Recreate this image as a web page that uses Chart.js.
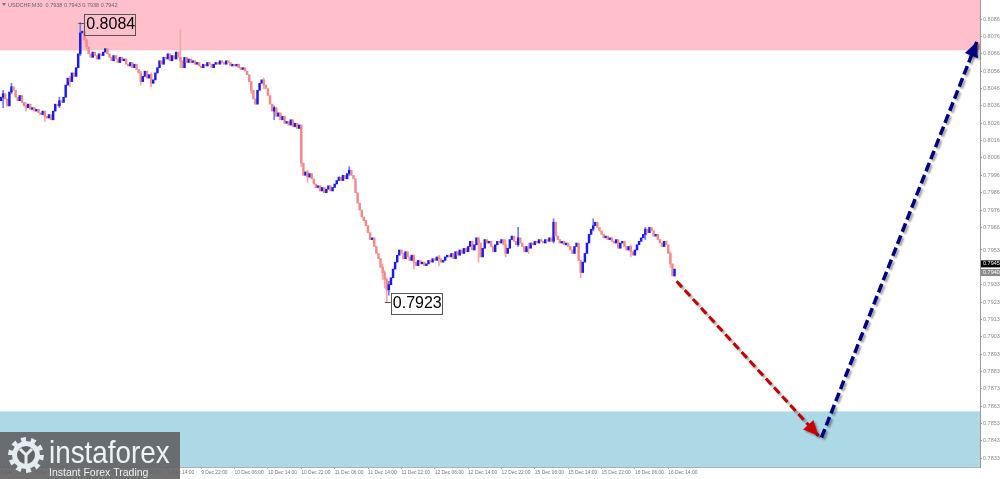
<!DOCTYPE html>
<html>
<head>
<meta charset="utf-8">
<script src="https://cdn.jsdelivr.net/npm/chart.js@4.4.1/dist/chart.umd.min.js"></script>
<style>
  html, body { margin: 0; padding: 0; background: #fff; overflow: hidden; }
  canvas { display: block; }
</style>
</head>
<body>
<canvas id="usdchfChart" width="1000" height="479" style="width:1000px;height:479px"></canvas>
<script>
// USDCHF M30 closes, one per bar (5 Dec 22:00 .. 16 Dec 15:30)
const firstOpen = 0.8039;
const closes = [
  0.8041, 0.8043, 0.8040, 0.8036, 0.8044, 0.8047, 0.8045, 0.8041,
  0.8039, 0.8042, 0.8038, 0.8036, 0.8035, 0.8037, 0.8034, 0.8035, 0.8033,
  0.8034, 0.8032, 0.8031, 0.8033, 0.8030, 0.8029, 0.8031, 0.8028,
  0.8033, 0.8037, 0.8036, 0.8039, 0.8038, 0.8041,
  0.8048, 0.8052, 0.8050, 0.8055, 0.8053, 0.8058,
  0.8066, 0.8078, 0.8079, 0.8074,
  0.8070, 0.8066, 0.8064, 0.8067, 0.8065, 0.8063, 0.8066,
  0.8065, 0.8067, 0.8069, 0.8066,
  0.8064, 0.8062, 0.8065, 0.8063, 0.8061, 0.8064, 0.8062, 0.8063,
  0.8060, 0.8059, 0.8061, 0.8058, 0.8060, 0.8057,
  0.8055, 0.8050, 0.8053, 0.8056, 0.8052, 0.8054, 0.8049, 0.8051,
  0.8055, 0.8058, 0.8062, 0.8060, 0.8064, 0.8063,
  0.8066, 0.8062, 0.8065, 0.8063, 0.8067, 0.8064,
  0.8062, 0.8058, 0.8064, 0.8061,
  0.8063, 0.8061, 0.8062, 0.8060, 0.8061, 0.8059,
  0.8058, 0.8060, 0.8059, 0.8061, 0.8060, 0.8058, 0.8060,
  0.8061, 0.8060, 0.8062, 0.8061, 0.8060, 0.8062, 0.8061, 0.8059, 0.8060,
  0.8059, 0.8060, 0.8058, 0.8057, 0.8058, 0.8056, 0.8054,
  0.8050, 0.8045, 0.8040, 0.8037,
  0.8045, 0.8049, 0.8051, 0.8048, 0.8046,
  0.8042, 0.8037, 0.8033, 0.8035, 0.8030,
  0.8032, 0.8028, 0.8030, 0.8026, 0.8027, 0.8025, 0.8028, 0.8024, 0.8026, 0.8023, 0.8025,
  0.8003, 0.7996, 0.7998, 0.7995, 0.7997, 0.7994,
  0.7991, 0.7989, 0.7990, 0.7987, 0.7989, 0.7986, 0.7988, 0.7990, 0.7987, 0.7989,
  0.7991, 0.7993, 0.7995, 0.7993, 0.7996, 0.7994, 0.7997, 0.7999, 0.7996, 0.7994,
  0.7986, 0.7980, 0.7976, 0.7972, 0.7970, 0.7967,
  0.7963, 0.7959, 0.7960, 0.7955, 0.7951, 0.7948,
  0.7943, 0.7940, 0.7936, 0.7930, 0.7933,
  0.7937, 0.7942, 0.7946, 0.7950,
  0.7953, 0.7951, 0.7948, 0.7952, 0.7949, 0.7947, 0.7950, 0.7946, 0.7944, 0.7947,
  0.7945, 0.7946, 0.7944, 0.7945, 0.7947, 0.7946, 0.7948, 0.7947, 0.7949, 0.7948, 0.7946, 0.7947, 0.7949,
  0.7950, 0.7949, 0.7951, 0.7948, 0.7952, 0.7950, 0.7953, 0.7951, 0.7954, 0.7952,
  0.7955, 0.7958, 0.7953, 0.7956, 0.7960, 0.7957, 0.7949, 0.7954, 0.7959, 0.7957,
  0.7958, 0.7955, 0.7952, 0.7956, 0.7958, 0.7957, 0.7959, 0.7956, 0.7951, 0.7954, 0.7959, 0.7961, 0.7958, 0.7956,
  0.7960,
  0.7957, 0.7955, 0.7952, 0.7955, 0.7954, 0.7957, 0.7956, 0.7958, 0.7957, 0.7959, 0.7958, 0.7957, 0.7959, 0.7958, 0.7960, 0.7958,
  0.7969,
  0.7961, 0.7959, 0.7957, 0.7958, 0.7956, 0.7957, 0.7955, 0.7953, 0.7951, 0.7955, 0.7957,
  0.7947, 0.7940, 0.7946,
  0.7951, 0.7957, 0.7962, 0.7965, 0.7967, 0.7969,
  0.7966, 0.7964, 0.7962, 0.7960, 0.7961, 0.7959, 0.7960, 0.7958,
  0.7957, 0.7959, 0.7954, 0.7957, 0.7958, 0.7955, 0.7953, 0.7955, 0.7952, 0.7950,
  0.7953, 0.7956, 0.7958, 0.7960, 0.7962, 0.7965, 0.7963, 0.7966,
  0.7964, 0.7961, 0.7962, 0.7959, 0.7957, 0.7955, 0.7958, 0.7956,
  0.7951, 0.7945, 0.7938, 0.7942
];
// bars whose wicks stick out of the body
const wickBars  = [1, 5, 12, 21, 28, 33, 38, 41, 67, 72, 86, 120, 126, 131, 144, 147, 167, 183, 184, 185, 186, 198, 210, 229, 242, 248, 253, 265, 278, 284, 302, 309, 321];
const wickHighs = [0.8045, 0.8049, 0.8038, 0.8033, 0.8041, 0.8053, 0.8084, 0.8075, 0.8056, 0.8055, 0.8080, 0.8050, 0.8052, 0.8036, 0.8025, 0.7999, 0.8001, 0.7945, 0.7941, 0.7937, 0.7935, 0.7950, 0.7950, 0.7960, 0.7959, 0.7966, 0.7957, 0.7971, 0.7947, 0.7971, 0.7956, 0.7966, 0.7952];
const wickLows  = [0.8035, 0.8043, 0.8033, 0.8027, 0.8035, 0.8047, 0.8065, 0.8068, 0.8048, 0.8047, 0.8058, 0.8043, 0.8046, 0.8028, 0.8001, 0.7992, 0.7996, 0.7936, 0.7931, 0.7923, 0.7927, 0.7942, 0.7944, 0.7946, 0.7949, 0.7955, 0.7951, 0.7957, 0.7937, 0.7964, 0.7949, 0.7959, 0.7943];

// x tick labels, one every 16 bars
const timeLabels = ['5 Dec 22:00', '8 Dec 06:00', '8 Dec 14:00', '8 Dec 22:00', '9 Dec 06:00', '9 Dec 14:00', '9 Dec 22:00',
  '10 Dec 06:00', '10 Dec 14:00', '10 Dec 22:00', '11 Dec 06:00', '11 Dec 14:00', '11 Dec 22:00', '12 Dec 06:00',
  '12 Dec 14:00', '12 Dec 22:00', '15 Dec 06:00', '15 Dec 14:00', '15 Dec 22:00', '16 Dec 06:00', '16 Dec 14:00'];
const barsPerLabel = 16;
const priceTicks = [0.8086, 0.8076, 0.8066, 0.8056, 0.8046, 0.8036, 0.8026, 0.8016, 0.8006, 0.7996, 0.7986, 0.7976, 0.7966,
  0.7953, 0.7933, 0.7923, 0.7913, 0.7903, 0.7893, 0.7883, 0.7873, 0.7863, 0.7853, 0.7843, 0.7833];

// zones and forecast waves
const resistanceZone = [0.8068, 0.8097];
const supportZone = [0.7828, 0.7860];
const downWaveX = [324, 392];
const downWaveY = [0.7935, 0.7846];
const upWaveX = [393.5, 468];
const upWaveY = [0.7845, 0.8073];
const markBars = [38, 185];
const markValues = [0.8084, 0.7923];
const bidLabel = 0.7945;
const askLabel = 0.7940;
const headerText = 'USDCHF,M30  0.7938 0.7943 0.7938 0.7942';

const opens = closes.map((c, i) => i === 0 ? firstOpen : closes[i - 1]);
const upColor = '#1a1aee', downColor = '#f08a8a';
const fontFam = '"Liberation Sans", "DejaVu Sans", sans-serif';

const bodyData = closes.map((c, i) => ({ x: i, y: [opens[i], c] }));
const wickData = wickBars.map((k, i) => ({ x: k, y: [wickLows[i], wickHighs[i]] }));

const shadowOn = (ctx) => {
  ctx.shadowColor = 'rgba(0,0,0,0.35)';
  ctx.shadowOffsetX = 2;
  ctx.shadowOffsetY = 2;
  ctx.shadowBlur = 2;
};

const drawHead = (ctx, p0, p1, color) => {
  const ang = Math.atan2(p1.y - p0.y, p1.x - p0.x);
  const len = 15, half = 7;
  const bx = p1.x - len * Math.cos(ang), by = p1.y - len * Math.sin(ang);
  ctx.save();
  shadowOn(ctx);
  ctx.fillStyle = color;
  ctx.beginPath();
  ctx.moveTo(p1.x, p1.y);
  ctx.lineTo(bx + half * Math.sin(ang), by - half * Math.cos(ang));
  ctx.lineTo(bx - half * Math.sin(ang), by + half * Math.cos(ang));
  ctx.closePath();
  ctx.fill();
  ctx.restore();
};

const noPad = s => { s.paddingTop = 0; s.paddingBottom = 0; s.paddingLeft = 0; s.paddingRight = 0; };

const chartDecor = {
  id: 'chartDecor',
  beforeDraw(chart) {
    const ctx = chart.ctx;
    ctx.save();
    ctx.fillStyle = '#fff';
    ctx.fillRect(0, 0, chart.width, chart.height);
    ctx.restore();
  },
  beforeDatasetsDraw(chart) {
    const { ctx, chartArea: a, scales: { y } } = chart;
    ctx.save();
    ctx.fillStyle = 'pink';
    let t = y.getPixelForValue(resistanceZone[1]), b = y.getPixelForValue(resistanceZone[0]);
    ctx.fillRect(a.left, t, a.right - a.left, b - t);
    ctx.fillStyle = 'lightblue';
    t = y.getPixelForValue(supportZone[1]); b = y.getPixelForValue(supportZone[0]);
    ctx.fillRect(a.left, t, a.right - a.left, b - t);
    ctx.restore();
  },
  beforeDatasetDraw(chart, args) {
    if (chart.data.datasets[args.index].type === 'line') {
      chart.ctx.save();
      shadowOn(chart.ctx);
    }
  },
  afterDatasetDraw(chart, args) {
    const ds = chart.data.datasets[args.index];
    if (ds.type === 'line') {
      chart.ctx.restore();
      const pts = args.meta.data;
      drawHead(chart.ctx, pts[pts.length - 2], pts[pts.length - 1], ds.headColor);
    }
  },
  afterDatasetsDraw(chart) {
    const { ctx, scales: { x, y } } = chart;
    ctx.save();
    // extreme markers
    markBars.forEach((k, i) => {
      const px = x.getPixelForValue(k), py = y.getPixelForValue(markValues[i]);
      ctx.strokeStyle = '#555';
      ctx.lineWidth = 1;
      ctx.beginPath();
      ctx.moveTo(px - 2, Math.round(py) + 0.5);
      ctx.lineTo(px + 4, Math.round(py) + 0.5);
      ctx.stroke();
      ctx.strokeRect(Math.round(px + 4) + 0.5, Math.round(py - 9) + 0.5, 51, 21);
      ctx.fillStyle = '#000';
      ctx.font = '16px ' + fontFam;
      ctx.textBaseline = 'middle';
      ctx.textAlign = 'left';
      ctx.fillText(markValues[i].toFixed(4), px + 6, py + 2);
    });
    ctx.restore();
  },
  afterDraw(chart) {
    const { ctx, scales: { y } } = chart;
    ctx.save();
    // header
    ctx.fillStyle = '#777';
    ctx.beginPath();
    ctx.moveTo(2, 3); ctx.lineTo(6, 3); ctx.lineTo(4, 6); ctx.closePath(); ctx.fill();
    ctx.font = '5.5px ' + fontFam;
    ctx.textBaseline = 'middle';
    ctx.fillStyle = '#666';
    ctx.fillText(headerText, 8, 5);
    // bid / ask labels on price axis
    [[bidLabel, '#000'], [askLabel, '#8a8a8a']].forEach(([v, bg]) => {
      const py = y.getPixelForValue(v);
      ctx.fillStyle = bg;
      ctx.fillRect(981, py - 3.5, 19, 7);
      ctx.fillStyle = '#fff';
      ctx.fillText(v.toFixed(4), 983, py);
    });
    // logo
    ctx.fillStyle = 'rgba(98,98,98,0.9)';
    ctx.fillRect(0, 432, 180, 47);
    const cx = 26, cy = 455;
    ctx.fillStyle = '#e4ecf0';
    ctx.beginPath();
    for (let i = 0; i < 20; i++) {
      const a = i * Math.PI / 10;
      const r = (i % 2 === 0) ? 18 : 14;
      const a2 = a + Math.PI / 10;
      ctx.lineTo(cx + r * Math.cos(a), cy + r * Math.sin(a));
      ctx.lineTo(cx + r * Math.cos(a2), cy + r * Math.sin(a2));
    }
    ctx.closePath();
    ctx.fill();
    ctx.fillStyle = 'rgb(98,98,98)';
    ctx.beginPath(); ctx.arc(cx, cy, 9, 0, Math.PI * 2); ctx.fill();
    ctx.strokeStyle = '#e4ecf0';
    ctx.lineWidth = 3;
    ctx.beginPath();
    ctx.moveTo(cx - 6, cy - 6); ctx.lineTo(cx, cy); ctx.lineTo(cx + 6, cy - 6);
    ctx.moveTo(cx, cy); ctx.lineTo(cx, cy + 12);
    ctx.stroke();
    ctx.fillStyle = '#eef3f5';
    ctx.textBaseline = 'alphabetic';
    ctx.save();
    ctx.translate(49, 463);
    ctx.scale(0.87, 1);
    ctx.font = '32px ' + fontFam;
    ctx.fillText('instaforex', 0, 0);
    ctx.restore();
    ctx.font = '10.5px ' + fontFam;
    ctx.fillText('Instant Forex Trading', 49, 476);
    ctx.restore();
  }
};

const ctx = document.getElementById('usdchfChart').getContext('2d');
new Chart(ctx, {
  type: 'bar',
  data: {
    datasets: [
      {
        type: 'line', order: 0,
        data: downWaveX.map((v, i) => ({ x: v, y: downWaveY[i] })),
        borderColor: '#c00000', borderWidth: 3, borderDash: [8, 4],
        pointRadius: 0, fill: false, headColor: '#c80000'
      },
      {
        type: 'line', order: 0,
        data: upWaveX.map((v, i) => ({ x: v, y: upWaveY[i] })),
        borderColor: '#000080', borderWidth: 3.5, borderDash: [9, 4],
        pointRadius: 0, fill: false, headColor: '#000080'
      },
      {
        order: 1, grouped: false, barThickness: 1.8, minBarLength: 1,
        data: bodyData, borderWidth: 0,
        backgroundColor: c => closes[c.dataIndex] >= opens[c.dataIndex] ? upColor : downColor
      },
      {
        order: 2, grouped: false, barThickness: 1,
        data: wickData, borderWidth: 0,
        backgroundColor: c => {
          const k = wickBars[c.dataIndex];
          return closes[k] >= opens[k] ? '#7878f0' : '#f2a8a8';
        }
      }
    ]
  },
  options: {
    responsive: false,
    animation: false,
    layout: { padding: 0 },
    plugins: { legend: { display: false }, tooltip: { enabled: false } },
    scales: {
      x: {
        type: 'linear', min: -0.5, max: 469.5, offset: false,
        afterBuildTicks: s => { s.ticks = timeLabels.map((t, i) => ({ value: i * barsPerLabel })); },
        afterFit: s => { s.height = 12; noPad(s); },
        ticks: {
          align: 'start', maxRotation: 0, autoSkip: false, padding: 1,
          font: { size: 4.9, family: fontFam }, color: '#777',
          callback: (v, i) => timeLabels[i]
        },
        grid: { drawOnChartArea: false, offset: false, tickLength: 2, color: '#aaa' },
        border: { color: '#b0b0b0' }
      },
      y: {
        position: 'right', min: 0.7828, max: 0.8097,
        afterBuildTicks: s => { s.ticks = priceTicks.map(v => ({ value: v })); },
        afterFit: s => { s.width = 20; noPad(s); },
        ticks: {
          padding: 1, font: { size: 5.5, family: fontFam }, color: '#888',
          callback: v => v.toFixed(4)
        },
        grid: { drawOnChartArea: false, tickLength: 2, color: '#999' },
        border: { color: '#9a9a9a' }
      }
    }
  },
  plugins: [chartDecor]
});
</script>
</body>
</html>
